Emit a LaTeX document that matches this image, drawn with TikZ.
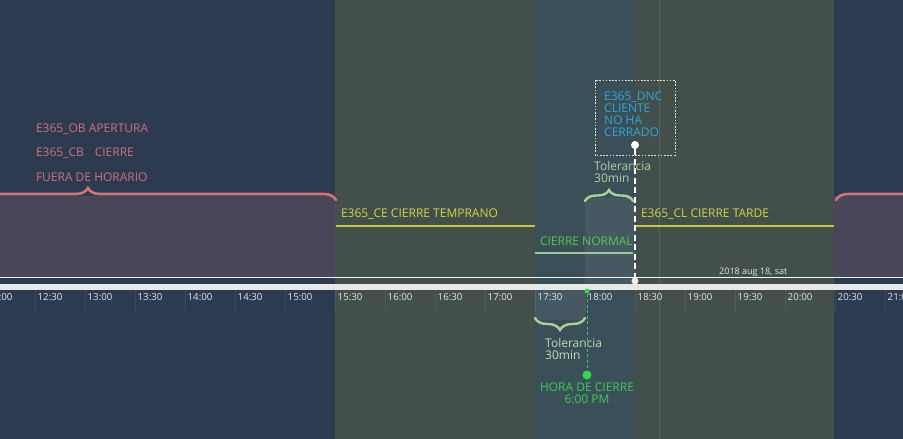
\documentclass[tikz,border=0pt]{standalone}
\usepackage{fontspec}
\setmainfont{Open Sans}
\usetikzlibrary{decorations.pathreplacing}
\definecolor{navy}{HTML}{2D3B50}
\definecolor{bandgreen}{HTML}{424F4B}
\definecolor{bandblue}{HTML}{3B4F59}
\definecolor{pinkzone}{HTML}{494659}
\definecolor{redbrace}{HTML}{D6727A}
\definecolor{pinktext}{HTML}{D0707A}
\definecolor{yell}{HTML}{D4D442}
\definecolor{yline}{HTML}{C8C840}
\definecolor{greentext}{HTML}{52CC44}
\definecolor{paleline}{HTML}{9CCB92}
\definecolor{palebrace}{HTML}{A8D496}
\definecolor{paletext}{HTML}{A9D49E}
\definecolor{cyantext}{HTML}{2EA8D8}
\definecolor{brightgreen}{HTML}{2EDC4A}
\definecolor{ticktext}{HTML}{E4E6EA}
\begin{document}
\begin{tikzpicture}[x=1pt,y=-1pt,
  lbl/.style={inner sep=0pt, outer sep=0pt, anchor=west, font=\fontsize{12}{12}\selectfont},
  ticklbl/.style={inner sep=0pt, anchor=west, text=ticktext, font=\fontsize{9.7}{11}\selectfont},
  stacked/.style={inner sep=0pt, anchor=north west, align=left, font=\fontsize{12}{12}\selectfont},
  bracestyle/.style={decorate, decoration={brace, amplitude=#1}, line cap=round},
  dot/.style={circle, inner sep=0pt, minimum size=#1}
]
\useasboundingbox (0,0) rectangle (903,439);
\clip (0,0) rectangle (903,439);
% background bands
\fill[navy] (0,0) rectangle (903,439);
\fill[bandgreen] (335,0) rectangle (834,439);
\fill[bandblue] (535,0) rectangle (635,439);
\draw[color=white, opacity=0.12, line width=1pt] (659,0) -- (659,439);
% pink zones
\fill[pinkzone] (0,196) rectangle (335,277);
\fill[pinkzone] (834,196) rectangle (903,277);
% tolerance shaded areas
\fill[white, opacity=0.06] (585,198) rectangle (635,284);
\fill[white, opacity=0.06] (535,284) rectangle (585,320);
% axis
\draw[color=white!90!gray, line width=1pt] (0,277) -- (903,277);
\fill[color=white!82!gray] (0,284) rectangle (903,290);
\foreach \k/\t in {-1/12:00,0/12:30,1/13:00,2/13:30,3/14:00,4/14:30,5/15:00,6/15:30,7/16:00,8/16:30,9/17:00,10/17:30,11/18:00,12/18:30,13/19:00,14/19:30,15/20:00,16/20:30,17/21:00}{
  \pgfmathsetmacro{\xx}{35+50*\k}
  \draw[color=white, opacity=0.08, line width=1pt] (\xx,290) -- (\xx,312);
  \node[ticklbl] (t\k) at (\xx+2.5,297) {\t};
}
\node[inner sep=0pt, anchor=west, text=ticktext, font=\fontsize{9}{10}\selectfont] (date) at (719,272) {2018 aug 18, sat};
% red braces
\draw[redbrace, line width=2.6pt, bracestyle=12pt, decoration={aspect=0.303}] (-20,200) -- (336,200);
\draw[redbrace, line width=2.6pt, bracestyle=12pt] (836,200) -- (1120,200);
% left texts
\node[lbl, text=pinktext] (ob) at (36,129) {E365\_OB APERTURA};
\node[lbl, text=pinktext] (cb) at (36,153) {E365\_CB\hspace{0.9em}CIERRE};
\node[lbl, text=pinktext] (fh) at (36,177) {FUERA DE HORARIO};
% yellow lines
\coordinate (ceL) at (336,226);
\coordinate (ceR) at (535,226);
\coordinate (clL) at (636,226);
\coordinate (clR) at (834,226);
\draw[yline, line width=2pt] (ceL) -- (ceR);
\draw[yline, line width=2pt] (clL) -- (clR);
\node[lbl, text=yell] (ce) at (341,214) {E365\_CE CIERRE TEMPRANO};
\node[lbl, text=yell] (cl) at (641,214) {E365\_CL CIERRE TARDE};
% cierre normal
\coordinate (cnL) at (535,253);
\coordinate (cnR) at (633,253);
\draw[paleline, line width=2pt] (cnL) -- (cnR);
\node[lbl, text=greentext] (cn) at (540,241) {CIERRE NORMAL};
% DNC box
\draw[color=white!80!gray, line width=0.9pt, dash pattern=on 1.6pt off 1.6pt] (595,80) rectangle (675,155);
\node[stacked, text=cyantext] (dnc) at (604,91.5) {E365\_DNC\\CLIENTE\\NO HA\\CERRADO};
\node[dot=8pt, fill=white] (dncdot) at (635,145) {};
\node[dot=7pt, fill=white!88!gray] (axdot) at (635,281) {};
\draw[white, line width=2.6pt, dash pattern=on 6pt off 3.5pt] (dncdot) -- (axdot);
% upper tolerance
\node[stacked, text=paletext] (tol1) at (594,161) {Tolerancia\\30min};
\draw[palebrace, line width=2.4pt, bracestyle=11pt] (585,201) -- (633,201);
% lower tolerance
\draw[palebrace, line width=2.4pt, bracestyle=12pt] (585,318) -- (535,318);
\node[stacked, text=paletext!80!white] (tol2) at (545,338) {Tolerancia\\30min};
\node[dot=5pt, fill=brightgreen] (gaxdot) at (587,291) {};
\node[dot=9pt, fill=brightgreen] (gdot) at (587,375) {};
\draw[brightgreen!70!gray, line width=1pt, dash pattern=on 3pt off 2.5pt] (gaxdot) -- (gdot);
\node[inner sep=0pt, anchor=north, align=center, text=brightgreen!85!gray, font=\fontsize{12}{12}\selectfont] (hora) at (587,383) {HORA DE CIERRE\\6:00 PM};
\end{tikzpicture}
\end{document}
